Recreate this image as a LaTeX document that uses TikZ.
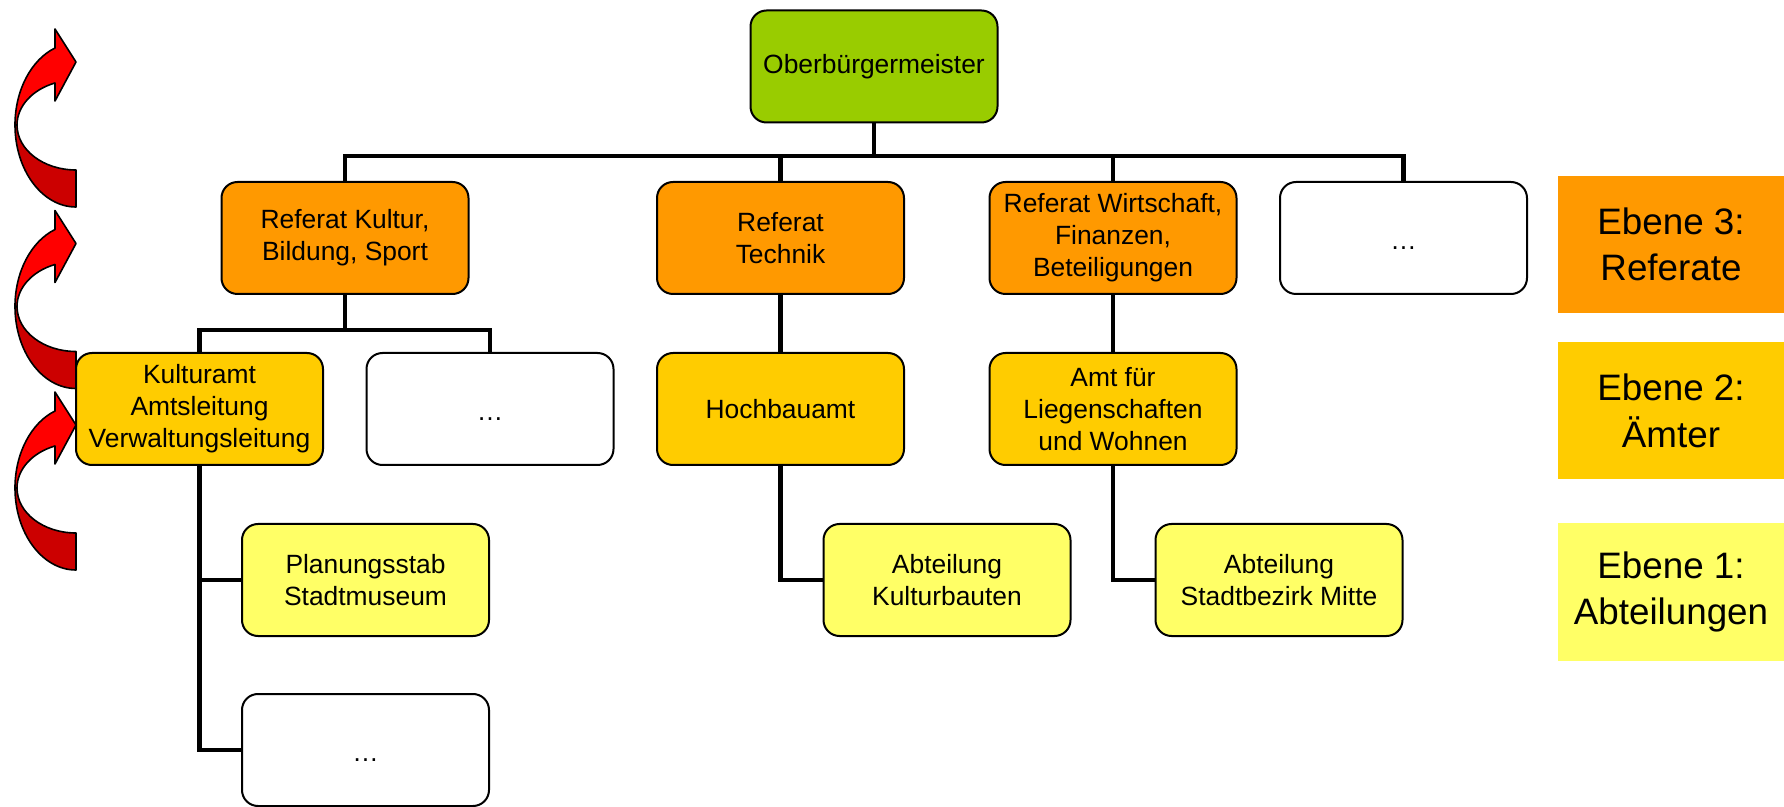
\documentclass[tikz,border=0pt]{standalone}
\usepackage{fontspec}
\setmainfont{Liberation Sans}
\definecolor{obmgreen}{HTML}{99CC00}
\definecolor{refor}{HTML}{FF9900}
\definecolor{amtcol}{HTML}{FFCC00}
\definecolor{abtcol}{HTML}{FFFF66}
\definecolor{brightred}{HTML}{FF0000}
\definecolor{darkred}{HTML}{CC0000}
\newcommand{\moredots}{\vphantom{Ag}\raisebox{-2.8pt}{…}}
\begin{document}
\begin{tikzpicture}[x=0.5pt,y=-0.5pt,
  box/.style={draw=black, line width=1pt, rounded corners=8pt,
    minimum width=123.5pt, minimum height=56pt, inner sep=0pt, outer sep=0pt,
    align=center, font=\fontsize{13.2}{16}\selectfont, text=black},
  conn/.style={draw=black, line width=2.4pt},
  legendbox/.style={minimum width=113pt, minimum height=68.5pt, inner sep=0pt,
    outer sep=0pt, align=center, font=\fontsize{18.4}{23.3}\selectfont},
  arrowline/.style={draw=black, line width=0.8pt, line join=round}
]
\useasboundingbox (0,0) rectangle (1784,807);

% curved red arrows
\foreach \o in {0,181.5,363}{
  \begin{scope}[shift={(0,\o)}]
    \filldraw[arrowline, fill=darkred] (15,125)
      arc[start angle=180, end angle=270, x radius=30.5pt, y radius=41pt]
      -- (76,170)
      arc[start angle=270, end angle=180, x radius=29.5pt, y radius=22.5pt]
      -- cycle;
    \filldraw[arrowline, fill=brightred] (15,125)
      arc[start angle=180, end angle=110.1, x radius=30.5pt, y radius=41pt]
      -- (55,29) -- (76,62) -- (55,101) -- (55,83)
      arc[start angle=110.85, end angle=180, x radius=29.5pt, y radius=22.5pt]
      -- cycle;
  \end{scope}
}

% boxes
\node[box, fill=obmgreen] (obm) at (874,66.5) {Oberbürgermeister};
\node[box, fill=refor] (refK) at (345,238) {Referat Kultur,\\Bildung, Sport};
\node[box, fill=refor] (refT) at (780.5,238) {Referat\\Technik};
\node[box, fill=refor] (refW) at (1113,238) {Referat Wirtschaft,\\Finanzen,\\Beteiligungen};
\node[box, fill=white] (refX) at (1403.5,238) {\moredots};
\node[box, fill=amtcol] (kult) at (199.5,409) {Kulturamt\\Amtsleitung\\Verwaltungsleitung};
\node[box, fill=white] (amtX) at (490,409) {\moredots};
\node[box, fill=amtcol] (hoch) at (780.5,409) {Hochbauamt};
\node[box, fill=amtcol] (lieg) at (1113,409) {Amt für\\Liegenschaften\\und Wohnen};
\node[box, fill=abtcol] (plan) at (365.5,580) {Planungsstab\\Stadtmuseum};
\node[box, fill=abtcol] (kbau) at (947,580) {Abteilung\\Kulturbauten};
\node[box, fill=abtcol] (stadt) at (1279,580) {Abteilung\\Stadtbezirk Mitte};
\node[box, fill=white] (more) at (365.5,750) {\moredots};

% legend
\node[legendbox, fill=refor] (l3) at (1671,244.5) {Ebene 3:\\Referate};
\node[legendbox, fill=amtcol] (l2) at (1671,411) {Ebene 2:\\Ämter};
\node[legendbox, fill=abtcol] (l1) at (1671,592) {Ebene 1:\\Abteilungen};

% connectors
\coordinate (bus1) at (874,156);
\coordinate (bus2) at (345,330);
\draw[conn] (obm.south) -- (bus1);
\draw[conn] (refK.north) -- (refK.north |- bus1) -- (refX.north |- bus1) -- (refX.north);
\draw[conn] (refT.north) -- (refT.north |- bus1);
\draw[conn] (refW.north) -- (refW.north |- bus1);
\draw[conn] (refK.south) -- (bus2);
\draw[conn] (kult.north) -- (kult.north |- bus2) -- (amtX.north |- bus2) -- (amtX.north);
\draw[conn] (refT.south) -- (hoch.north);
\draw[conn] (refW.south) -- (lieg.north);
\draw[conn] (kult.south) -- (kult.south |- more.west) -- (more.west);
\draw[conn] (kult.south |- plan.west) -- (plan.west);
\draw[conn] (hoch.south) -- (hoch.south |- kbau.west) -- (kbau.west);
\draw[conn] (lieg.south) -- (lieg.south |- stadt.west) -- (stadt.west);
\end{tikzpicture}
\end{document}
